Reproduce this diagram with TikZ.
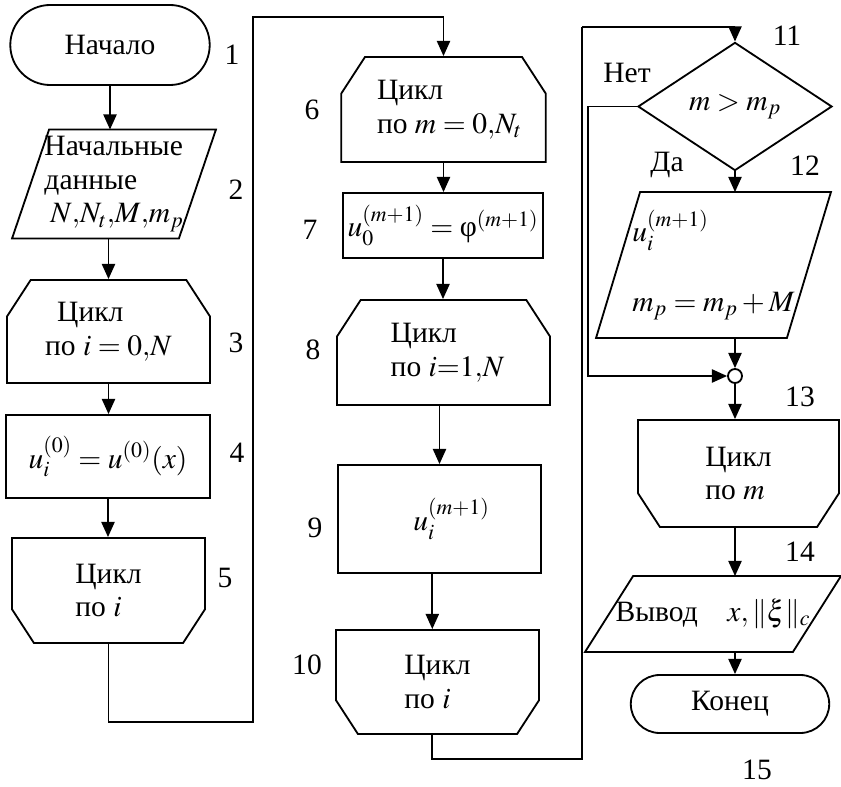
\documentclass[tikz,border=0pt]{standalone}
\usepackage{mathptmx}
\usepackage{fontspec}
\setmainfont{Liberation Serif}
\usetikzlibrary{arrows.meta,shapes.geometric,shapes.misc}
\newcommand\slantbox[2]{\draw ([xshift=#2]#1.north west) -- (#1.north east) -- ([xshift=-#2]#1.south east) -- (#1.south west) -- cycle;}

\begin{document}
\begin{tikzpicture}[>={Triangle[length=3.8mm,width=3.3mm]},x=0.025cm,y=-0.025cm,line width=1.3pt,
	every node/.style={font=\fontsize{21}{24}\selectfont},
	blk/.style={draw,inner sep=2pt,align=left},
	term/.style={blk,rounded rectangle},
	proc/.style={blk,rectangle},
	io/.style={inner sep=2pt,align=left},
	cond/.style={blk,diamond},
	loopbeg/.style={blk,chamfered rectangle,chamfered rectangle angle=33,chamfered rectangle xsep=0.85cm,
		chamfered rectangle corners={north west,north east}},
	loopend/.style={blk,chamfered rectangle,chamfered rectangle angle=33,chamfered rectangle xsep=0.85cm,
		chamfered rectangle corners={south west,south east}}]
	\useasboundingbox (0,0) rectangle (841,787);
	% первый столбец
	\node[term,minimum width=5.125cm,minimum height=2cm] (n1) at (110,45) {Начало};
	\node[io,minimum width=5.05cm,minimum height=2.675cm] (n2) at (114,184) {Начальные\\данные\\\hspace*{0.15cm}$N{,}N_t{,}M{,}m_p$};
	\slantbox{n2}{0.925cm}
	\node[loopbeg,minimum width=5.075cm,minimum height=2.575cm] (n3) at (108.5,331.5) {\hspace*{0.3cm}Цикл\\по $i=0{,}N$};
	\node[proc,minimum width=5.1cm,minimum height=2.075cm] (n4) at (108,456.5) {$u_i^{(0)}=u^{(0)}(x)$};
	\node[loopend,minimum width=4.825cm,minimum height=2.625cm] (n5) at (108.5,590.5) {Цикл\\по $i$};
	% второй столбец
	\node[loopbeg,minimum width=5.075cm,minimum height=2.625cm] (n6) at (443.5,109.5) {\hspace*{0.3cm}Цикл\\\hspace*{0.3cm}по $m=0{,}N_t$};
	\node[proc,minimum width=5cm,minimum height=1.625cm] (n7) at (443,225.5) {$u_0^{(m+1)}=\mbox{φ}^{(m+1)}$};
	\node[loopbeg,minimum width=5.325cm,minimum height=2.625cm] (n8) at (443.5,352.5) {\hspace*{0.2cm}Цикл\\\hspace*{0.2cm}по $i{=}1{,}N$};
	\node[proc,minimum width=5.075cm,minimum height=2.7cm] (n9) at (439.5,519) {\hspace*{0.6cm}$u_i^{(m+1)}$};
	\node[loopend,minimum width=5.075cm,minimum height=2.6cm] (n10) at (437.5,682) {Цикл\\по $i$};
	% третий столбец
	\node[cond,minimum width=4.85cm,minimum height=2.675cm] (n11) at (735,106.5) {$m>m_p$};
	\node[io,minimum width=5.825cm,minimum height=3.6cm] (n12) at (713.5,265) {$u_i^{(m+1)}$\\[0.9cm]$m_p=m_p+M$};
	\slantbox{n12}{1.1cm}
	\node[circle,draw,minimum size=0.35cm,inner sep=0pt] (circ) at (735,376) {};
	\node[loopend,minimum width=5.025cm,minimum height=2.675cm] (n13) at (738.5,473.5) {Цикл\\по $m$};
	\node[io,minimum width=6.35cm,minimum height=1.85cm] (n14) at (713,614) {Вывод\quad$x,\|\xi\|_c$};
	\slantbox{n14}{1.2cm}
	\node[term,minimum width=5.1cm,minimum height=1.45cm] (n15) at (730,704) {Конец};
	% подписи
	\node (yes) at (667,165) {Да};
	\node (no) at (627,73) {Нет};
	\node (l1) at (232,55) {1};
	\node (l2) at (236,190) {2};
	\node (l3) at (236,343) {3};
	\node (l4) at (237,453) {4};
	\node (l5) at (225,578) {5};
	\node (l6) at (312,110) {6};
	\node (l7) at (310,230) {7};
	\node (l8) at (313,350) {8};
	\node (l9) at (315,528) {9};
	\node (l10) at (307,665) {10};
	\node (l11) at (787,36) {11};
	\node (l12) at (805,166) {12};
	\node (l13) at (800,397) {13};
	\node (l14) at (800,552) {14};
	\node (l15) at (757,770) {15};
	% связи
	\draw[->] (n1.south) -- (n1.south |- n2.north);
	\draw[->] (n3.north |- n2.south) -- (n3.north);
	\draw[->] (n3.south) -- (n3.south |- n4.north);
	\draw[->] (n4.south) -- (n4.south |- n5.north);
	\draw[->] (n5.south) |- (253,722) -- (253,17) -| (n6.north);
	\draw[->] (n6.south) -- (n6.south |- n7.north);
	\draw[->] (n7.south) -- (n7.south |- n8.north);
	\draw[->] (n9.north |- n8.south) -- (n9.north);
	\draw[->] ([xshift=-0.18cm]n9.south) -- ([xshift=-0.18cm]n9.south |- n10.north);
	\draw ([xshift=-0.14cm]n10.south) |- (582,759) -- (582,27);
	\draw[->] (582,27) -| (n11.north);
	\draw[->] (n11.south) -- (n11.south |- n12.north);
	\draw[->] (n11.west) -| (588,376) -- (circ.west);
	\draw[->] (circ |- n12.south) -- (circ.north);
	\draw[->] (circ.south) -- (circ.south |- n13.north);
	\draw[->] (circ |- n13.south) -- (circ |- n14.north);
	\draw[->] (circ |- n14.south) -- (circ |- n15.north);
\end{tikzpicture}
\end{document}
